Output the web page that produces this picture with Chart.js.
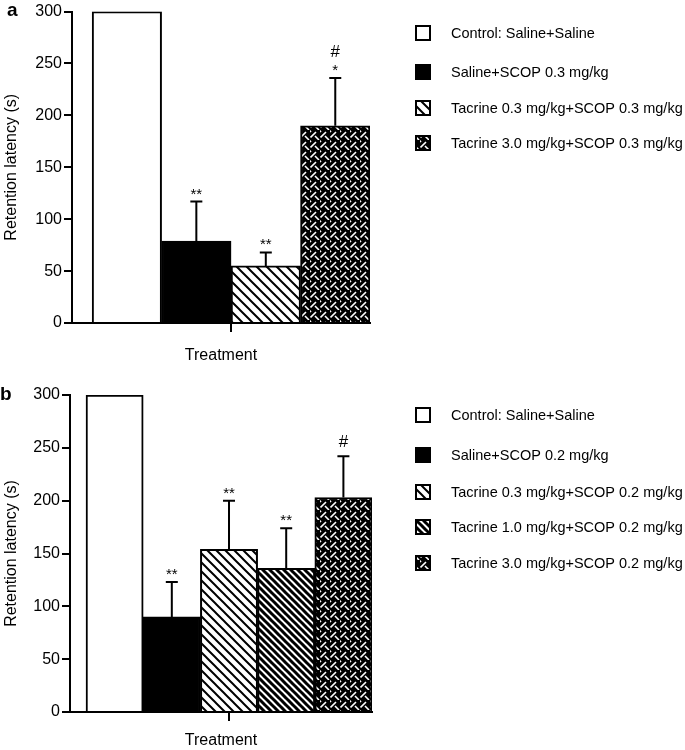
<!DOCTYPE html>
<html><head><meta charset="utf-8">
<script src="https://cdn.jsdelivr.net/npm/chart.js@4.4.1/dist/chart.umd.min.js"></script>
<style>
html,body{margin:0;padding:0;background:#fff;}
#wrap{position:relative;width:685px;height:750px;background:#fff;}
.pane{position:absolute;left:0;width:685px;}
canvas{display:block;}
</style></head><body>
<div id="wrap">
<div class="pane" style="top:0;height:370px"><canvas id="ca" width="685" height="370" style="width:685px;height:370px"></canvas></div>
<div class="pane" style="top:370px;height:380px"><canvas id="cb" width="685" height="380" style="width:685px;height:380px"></canvas></div>
</div>
<script>
// ---- data ----
const yTicks = [0, 50, 100, 150, 200, 250, 300];
const xTitle = 'Treatment';
const yTitle = 'Retention latency (s)';

const groupsA = ['Control: Saline+Saline', 'Saline+SCOP 0.3 mg/kg', 'Tacrine 0.3 mg/kg+SCOP 0.3 mg/kg', 'Tacrine 3.0 mg/kg+SCOP 0.3 mg/kg'];
const valuesA = [300, 79, 55, 190];
const errorsA = [0, 38, 13, 46];
const starsA  = ['', '**', '**', '*'];
const hashA   = ['', '', '', '#'];

const groupsB = ['Control: Saline+Saline', 'Saline+SCOP 0.2 mg/kg', 'Tacrine 0.3 mg/kg+SCOP 0.2 mg/kg', 'Tacrine 1.0 mg/kg+SCOP 0.2 mg/kg', 'Tacrine 3.0 mg/kg+SCOP 0.2 mg/kg'];
const valuesB = [300, 90, 154, 136, 203];
const errorsB = [0, 33, 46, 38, 39];
const starsB  = ['', '**', '**', '**', ''];
const hashB   = ['', '', '', '', '#'];

const FAMILY = "'Liberation Sans', Arial, Helvetica, sans-serif";

// ---- fills ----
function hatch(ctx, s, lw) {
  const c = document.createElement('canvas'); c.width = s; c.height = s;
  const g = c.getContext('2d');
  g.fillStyle = '#fff'; g.fillRect(0, 0, s, s);
  g.strokeStyle = '#000'; g.lineWidth = lw;
  g.beginPath();
  for (const o of [-s, 0, s]) { g.moveTo(o - 1, -1); g.lineTo(o + s + 1, s + 1); }
  g.stroke();
  return ctx.createPattern(c, 'repeat');
}
function weave(ctx) {
  const s = 10;
  const c = document.createElement('canvas'); c.width = s; c.height = s;
  const g = c.getContext('2d');
  g.fillStyle = '#000'; g.fillRect(0, 0, s, s);
  g.strokeStyle = '#fff'; g.lineWidth = 1.6; g.lineCap = 'butt';
  g.beginPath();
  g.moveTo(0.5, 7.5); g.lineTo(6, 2);
  g.moveTo(5, 6); g.lineTo(9, 10);
  g.moveTo(-1, 0); g.lineTo(1, 2);
  g.stroke();
  return ctx.createPattern(c, 'repeat');
}

function drawBox(ctx, x, y, size, fill) {
  ctx.save();
  ctx.fillStyle = fill;
  ctx.fillRect(x, y, size, size);
  ctx.strokeStyle = '#000'; ctx.lineWidth = 2;
  ctx.strokeRect(x + 1, y + 1, size - 2, size - 2);
  ctx.restore();
}

function makeChart(id, cfg) {
  const canvas = document.getElementById(id);
  const ctx = canvas.getContext('2d');
  const fills = cfg.fills(ctx);
  const extras = {
    id: 'extras' + id,
    afterDatasetsDraw(chart) {
      const c = chart.ctx, ys = chart.scales.y;
      const meta = chart.getDatasetMeta(0);
      c.save();
      c.strokeStyle = '#000'; c.lineWidth = 2; c.fillStyle = '#000';
      cfg.values.forEach((v, i) => {
        const bar = meta.data[i];
        const x = bar.x;
        let topY = ys.getPixelForValue(v);
        if (cfg.errors[i] > 0) {
          topY = ys.getPixelForValue(v + cfg.errors[i]);
          c.beginPath();
          c.moveTo(x, ys.getPixelForValue(v));
          c.lineTo(x, topY);
          c.moveTo(x - 6, topY);
          c.lineTo(x + 6, topY);
          c.stroke();
        }
        let yy = topY;
        c.textAlign = 'center';
        c.textBaseline = 'alphabetic';
        if (cfg.stars[i]) {
          c.font = '15px ' + FAMILY;
          c.fillText(cfg.stars[i], x, yy - 3);
          yy -= 12;
        }
        if (cfg.hash[i]) {
          c.font = '17px ' + FAMILY;
          c.fillText(cfg.hash[i], x, yy - 9);
        }
      });
      c.restore();
    },
    afterDraw(chart) {
      const c = chart.ctx;
      c.save();
      c.fillStyle = '#000';
      c.font = 'bold 19px ' + FAMILY;
      c.textAlign = 'left'; c.textBaseline = 'alphabetic';
      c.fillText(cfg.letter, cfg.letterX, cfg.letterY);
      c.font = '14.5px ' + FAMILY;
      c.textBaseline = 'middle';
      cfg.groups.forEach((g, i) => {
        const cy = cfg.legendY[i];
        drawBox(c, 415, cy - 8, 16, fills[i]);
        c.fillStyle = '#000';
        c.fillText(g, 451, cy + 1);
      });
      c.restore();
    }
  };
  return new Chart(ctx, {
    type: 'bar',
    data: {
      datasets: [{
        data: cfg.values.map((v, i) => ({ x: i + 0.5, y: v })),
        backgroundColor: fills,
        borderColor: '#000',
        borderWidth: 2,
        barPercentage: 1,
        categoryPercentage: 1
      }]
    },
    options: {
      responsive: false, animation: false, devicePixelRatio: 1,
      layout: { padding: { left: 0, right: cfg.padRight, top: cfg.padTop, bottom: 0 } },
      plugins: { legend: { display: false }, tooltip: { enabled: false } },
      scales: {
        x: {
          type: 'linear', min: cfg.xmin, max: cfg.values.length, offset: false,
          afterBuildTicks: s => { s.ticks = [{ value: cfg.tickX }]; },
          afterFit: s => { s.height = cfg.xh; },
          ticks: { display: false },
          grid: { offset: false, drawOnChartArea: false, drawTicks: true, tickLength: 9, color: '#000', lineWidth: 2 },
          border: { color: '#000', width: 2 },
          title: { display: true, text: xTitle, color: '#000', font: { size: 16, family: FAMILY }, padding: { top: 0, bottom: cfg.titlePadB } }
        },
        y: {
          min: 0, max: 300,
          afterBuildTicks: s => { s.ticks = yTicks.map(v => ({ value: v })); },
          afterFit: s => { s.width = cfg.yw; },
          ticks: { color: '#000', font: { size: 16, family: FAMILY }, padding: 2 },
          grid: { drawOnChartArea: false, tickLength: 8, color: '#000', lineWidth: 2 },
          border: { color: '#000', width: 2 },
          title: { display: true, text: yTitle, color: '#000', font: { size: 16, family: FAMILY }, padding: { top: 2, bottom: 0 } }
        }
      }
    },
    plugins: [extras]
  });
}

makeChart('ca', {
  groups: groupsA, values: valuesA, errors: errorsA, stars: starsA, hash: hashA,
  fills: ctx => ['#ffffff', '#000000', hatch(ctx, 10, 2), weave(ctx)],
  padRight: 315, padTop: 10, xh: 47, titlePadB: 5, yw: 72, xmin: -0.29, tickX: 2,
  letter: 'a', letterX: 7, letterY: 16,
  legendY: [33, 72, 108, 143]
});
makeChart('cb', {
  groups: groupsB, values: valuesB, errors: errorsB, stars: starsB, hash: hashB,
  fills: ctx => ['#ffffff', '#000000', hatch(ctx, 9, 2), hatch(ctx, 7, 3), weave(ctx)],
  padRight: 313, padTop: 25, xh: 38, titlePadB: 0, yw: 70, xmin: -0.28, tickX: 2.5,
  letter: 'b', letterX: 0, letterY: 30,
  legendY: [45, 85, 122, 157, 193]
});
</script>
</body></html>
